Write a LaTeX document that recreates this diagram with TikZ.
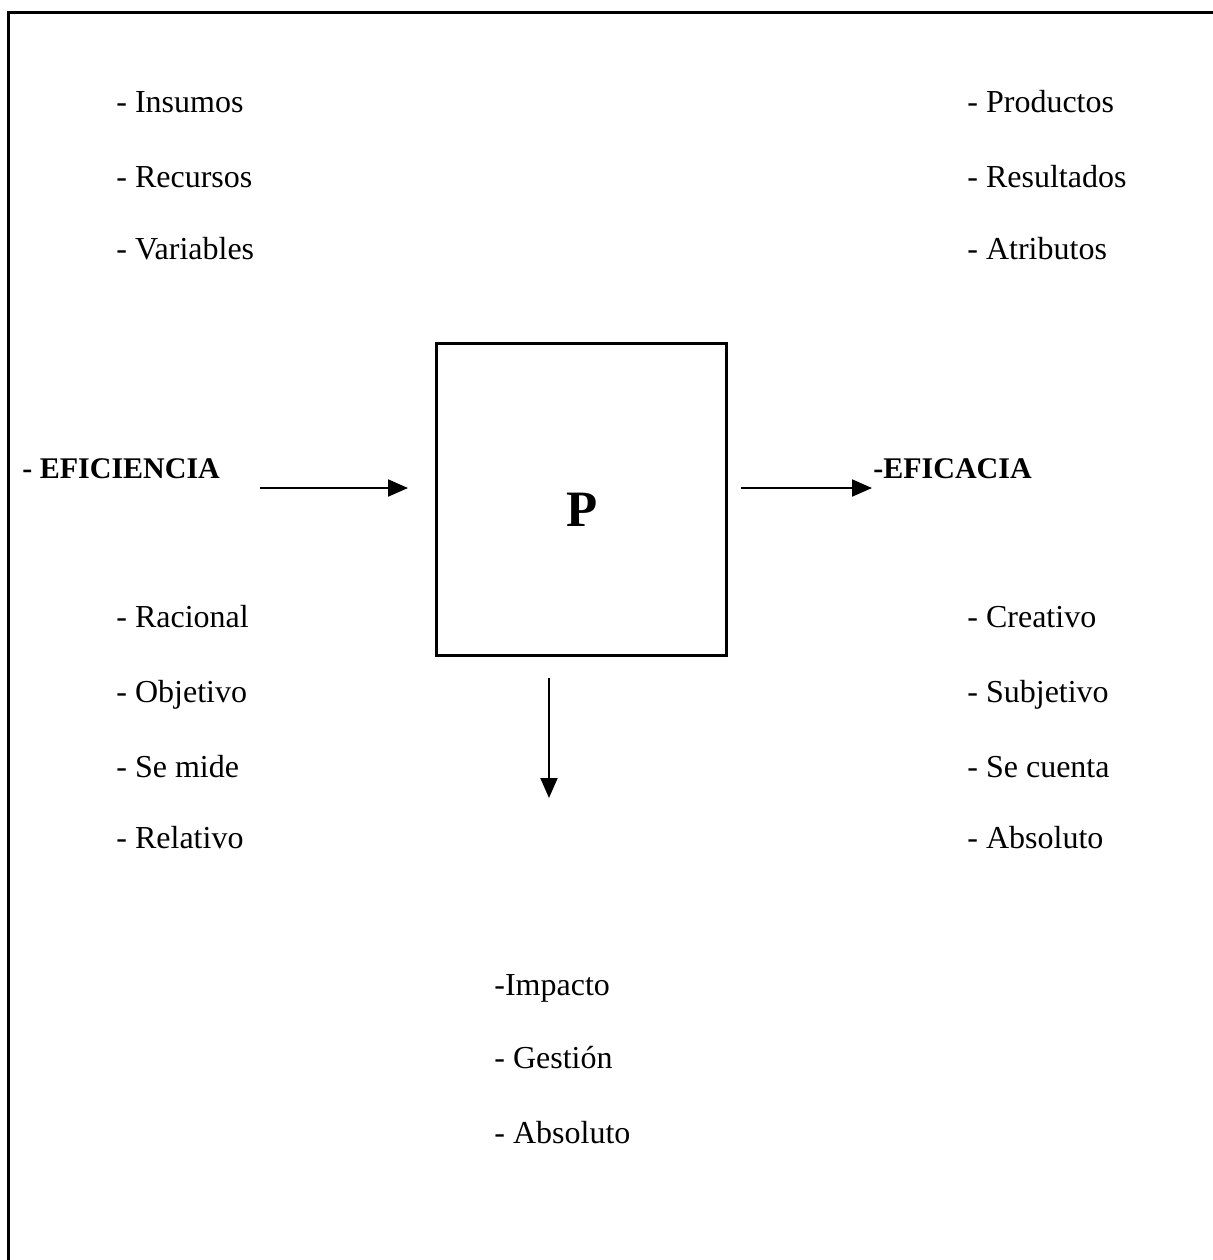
\documentclass[tikz,border=0pt]{standalone}
\usepackage{fontspec}
\setmainfont{Liberation Serif}
\usetikzlibrary{arrows.meta}
\begin{document}
\begin{tikzpicture}[x=0.5pt,y=-0.5pt,
  item/.style={anchor=base west,inner sep=0pt,font=\fontsize{16}{18}\selectfont},
  head/.style={anchor=base west,inner sep=0pt,font=\fontsize{15}{17}\selectfont\bfseries},
  procbox/.style={draw,line width=1.5pt,minimum width=145pt,minimum height=156pt,inner sep=0pt},
  arr/.style={line width=1pt,-{Triangle[length=10pt,width=8.5pt]}}]
\useasboundingbox (0,0) rectangle (1213,1260);
% frame (continues beyond the page at right and bottom)
\coordinate (fbl) at (8,1265);
\coordinate (ftl) at (8,12);
\coordinate (ftr) at (1218,12);
\draw[line width=1.5pt] (fbl) -- (ftl) -- (ftr);
% central box
\node[procbox] (box) at (581,499) {};
\node[inner sep=0pt,font=\fontsize{25.5}{28}\selectfont\bfseries] (p) at (582,510) {P};
% left top list
\node[item] (in) at (116,112) {- Insumos};
\node[item] (re) at (116,187) {- Recursos};
\node[item] (va) at (116,259) {- Variables};
% right top list
\node[item] (pr) at (967,112) {- Productos};
\node[item] (rs) at (967,187) {- Resultados};
\node[item] (at) at (967,259) {- Atributos};
% headings
\node[head] (efi) at (22,478) {- EFICIENCIA};
\node[head] (efa) at (873,478) {-EFICACIA};
% left lower list
\node[item] (ra) at (116,627) {- Racional};
\node[item] (ob) at (116,702) {- Objetivo};
\node[item] (sm) at (116,777) {- Se mide};
\node[item] (rl) at (116,848) {- Relativo};
% right lower list
\node[item] (cr) at (967,627) {- Creativo};
\node[item] (su) at (967,702) {- Subjetivo};
\node[item] (sc) at (967,777) {- Se cuenta};
\node[item] (ab) at (967,848) {- Absoluto};
% bottom list
\node[item] (im) at (494,995) {-Impacto};
\node[item] (ge) at (494,1068) {- Gestión};
\node[item] (ab2) at (494,1143) {- Absoluto};
% arrows
\coordinate (l1) at (260,488);
\coordinate (l2) at (408,488);
\coordinate (r1) at (741,488);
\coordinate (r2) at (872,488);
\coordinate (d1) at (549,678);
\coordinate (d2) at (549,798);
\draw[arr] (l1) -- (l2);
\draw[arr] (r1) -- (r2);
\draw[arr] (d1) -- (d2);
\end{tikzpicture}
\end{document}
